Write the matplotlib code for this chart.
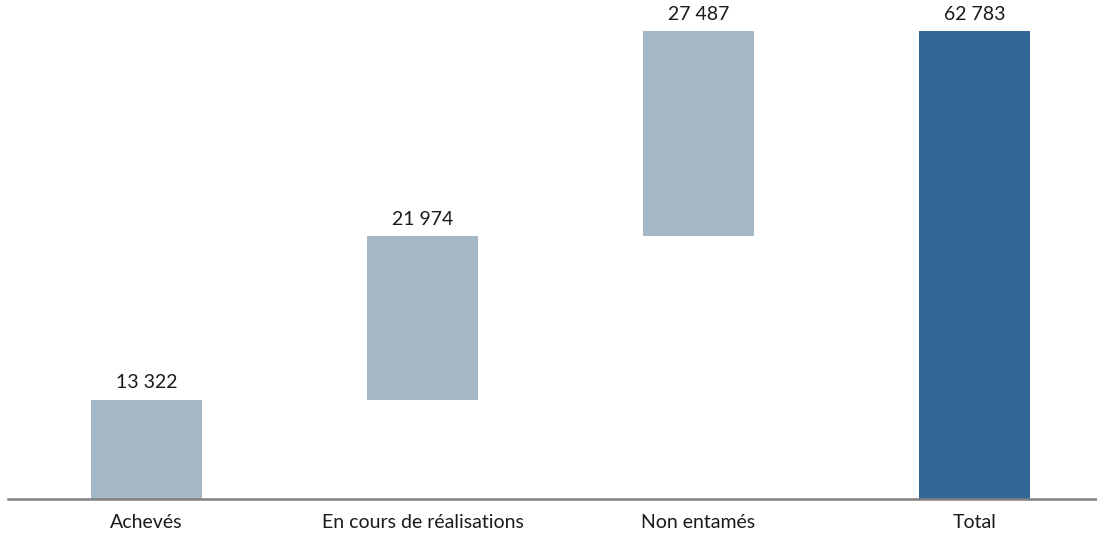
import matplotlib.pyplot as plt

categories = ["Achevés", "En cours de réalisations", "Non entamés", "Total"]
values = [13322, 21974, 27487, 62783]
labels = ["13 322", "21 974", "27 487", "62 783"]

plt.rcParams['font.family'] = ['Lato', 'DejaVu Sans']

fig = plt.figure(figsize=(10.97, 5.39), dpi=100)
ax = fig.add_axes([8 / 1097, 40 / 539, 1089 / 1097, 499 / 539])

# waterfall: each step starts where the previous one ended, total from zero
bottoms = []
run = 0
for i, v in enumerate(values):
    if i == len(values) - 1:
        bottoms.append(0)
    else:
        bottoms.append(run)
        run += v

colors = ["#A3B7C5"] * 3 + ["#336798"]
x = range(len(categories))
ax.bar(x, values, bottom=bottoms, width=0.402, color=colors)

for i in x:
    ax.text(i, bottoms[i] + values[i] + 1100, labels[i], ha="center", va="bottom",
            fontsize=14, color="#1a1a1a")

ax.set_xlim(-0.502, 3.444)
ax.set_ylim(0, 62783 * 499 / 468)
ax.set_xticks(list(x))
ax.set_xticklabels(categories, fontsize=14, color="#1a1a1a")
ax.tick_params(axis="x", length=0, pad=11)
ax.set_yticks([])
for s in ["top", "left", "right"]:
    ax.spines[s].set_visible(False)
ax.spines["bottom"].set_color("#808080")
ax.spines["bottom"].set_linewidth(1.8)

fig.savefig("out.png", dpi=100)
